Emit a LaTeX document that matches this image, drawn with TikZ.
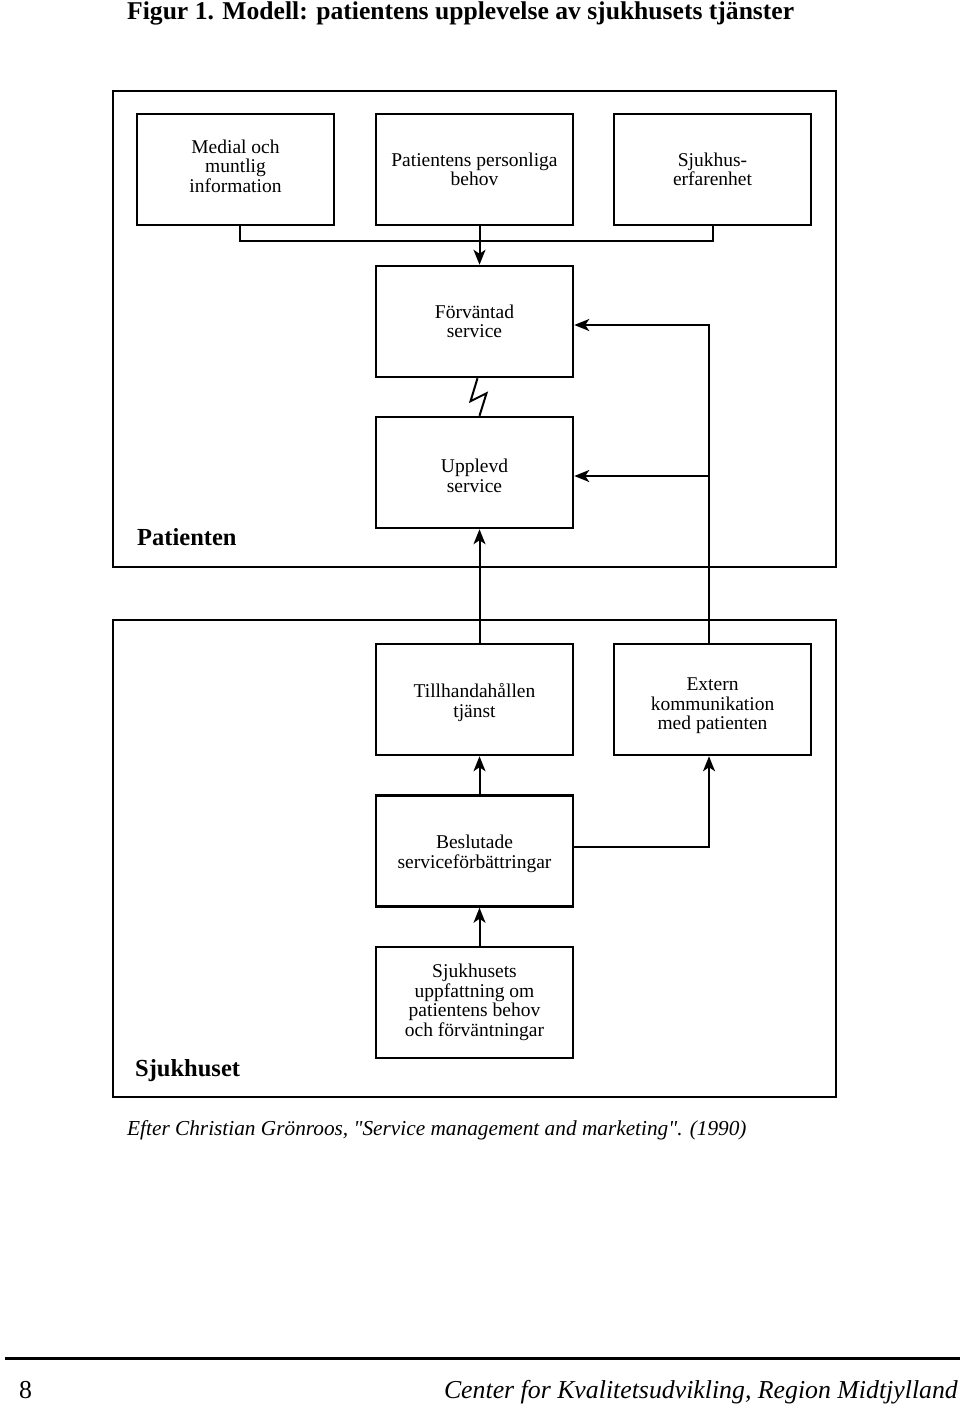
\documentclass[tikz,border=0pt]{standalone}
\usepackage{fontspec}
\setmainfont{Liberation Serif}
\newfontfamily\srcfont{Liberation Serif}
\usetikzlibrary{arrows.meta}
\begin{document}
\begin{tikzpicture}[x=1pt,y=-1pt,
  box/.style={draw,line width=2.5pt,minimum width=197pt,minimum height=111pt,inner sep=0pt},
  txt/.style={inner sep=0pt,align=center,font=\fontsize{19.5}{19.5}\selectfont},
  frame/.style={draw,line width=2.7pt},
  conn/.style={line width=2pt},
  arr/.style={line width=2pt,-{Stealth[length=15pt,width=12pt,inset=4pt]}},
  lbl/.style={inner sep=0pt,font=\fontsize{24.5}{27}\selectfont\bfseries}
]
\useasboundingbox (0,0) rectangle (960,1407);
% title
\node[inner sep=0pt,anchor=base west,font=\fontsize{25.6}{28}\selectfont\bfseries] (title) at (127,20)
  {Figur 1. Modell: patientens upplevelse av sjukhusets tjänster};
% frames
\draw[frame] (113,91) rectangle (836,567);
\draw[frame] (113,620) rectangle (836,1097);
\node[lbl,anchor=base west] (patlbl) at (137,545) {Patienten};
\node[lbl,anchor=base west] (sjlbl) at (135,1076) {Sjukhuset};
% boxes
\node[box,label={[txt,yshift=3.5pt]center:Medial och\\muntlig\\information}] (b1) at (235.5,169.5) {};
\node[box,label={[txt]center:Patientens personliga\\behov}] (b2) at (474.5,169.5) {};
\node[box,label={[txt]center:Sjukhus-\\erfarenhet}] (b3) at (712.5,169.5) {};
\node[box,label={[txt]center:Förväntad\\service}] (fv) at (474.5,321.5) {};
\node[box,label={[txt,yshift=-3.5pt]center:Upplevd\\service}] (up) at (474.5,472.5) {};
\node[box,label={[txt,yshift=-3pt]center:Tillhandahållen\\tjänst}] (th) at (474.5,699.5) {};
\node[box,label={[txt,yshift=-6.5pt]center:Extern\\kommunikation\\med patienten}] (ek) at (712.5,699.5) {};
\node[box,label={[txt,yshift=-3pt]center:Beslutade\\serviceförbättringar}] (bs) at (474.5,851) {};
\node[box,label={[txt]center:Sjukhusets\\uppfattning om\\patientens behov\\och förväntningar}] (sh) at (474.5,1002.5) {};
% helper coordinates
\coordinate (xa) at (240,0);
\coordinate (xm) at (479.5,0);
\coordinate (xb) at (713,0);
\coordinate (xr) at (709,0);
\coordinate (yj) at (0,241);
\coordinate (ya) at (0,325);
\coordinate (yb) at (0,476);
\coordinate (yc) at (0,847);
% top connectors
\draw[conn] (b1.south -| xa) -- (xa |- yj) -- (xb |- yj) -- (b3.south -| xb);
\draw[arr] (b2.south -| xm) -- (fv.north -| xm);
% zigzag
\draw[conn,line join=miter] (fv.south -| xm) ++(-2,0) -- ++(-7,23) -- ++(16,-8) -- (up.north -| xm);
% feedback from Extern kommunikation
\draw[arr] (ek.north -| xr) -- (xr |- ya) -- (fv.east |- ya);
\draw[arr] (xr |- yb) -- (up.east |- yb);
% vertical chain
\draw[arr] (th.north -| xm) -- (up.south -| xm);
\draw[arr] (bs.north -| xm) -- (th.south -| xm);
\draw[arr] (sh.north -| xm) -- (bs.south -| xm);
\draw[arr] (bs.east |- yc) -- (xr |- yc) -- (ek.south -| xr);
% source
\node[inner sep=0pt,anchor=base west,font=\srcfont\fontsize{21.3}{24}\selectfont\itshape] (src) at (127,1135)
  {Efter Christian Grönroos, "Service management and marketing". (1990)};
% footer
\coordinate (r1) at (5,1358);
\coordinate (r2) at (960,1358);
\draw[line width=3pt] (r1) -- (r2);
\node[inner sep=0pt,anchor=base west,font=\fontsize{25.8}{28}\selectfont] (pg) at (19,1398) {8};
\node[inner sep=0pt,anchor=base east,font=\fontsize{25.8}{28}\selectfont\itshape] (ft) at (958,1398)
  {Center for Kvalitetsudvikling, Region Midtjylland};
\end{tikzpicture}
\end{document}
